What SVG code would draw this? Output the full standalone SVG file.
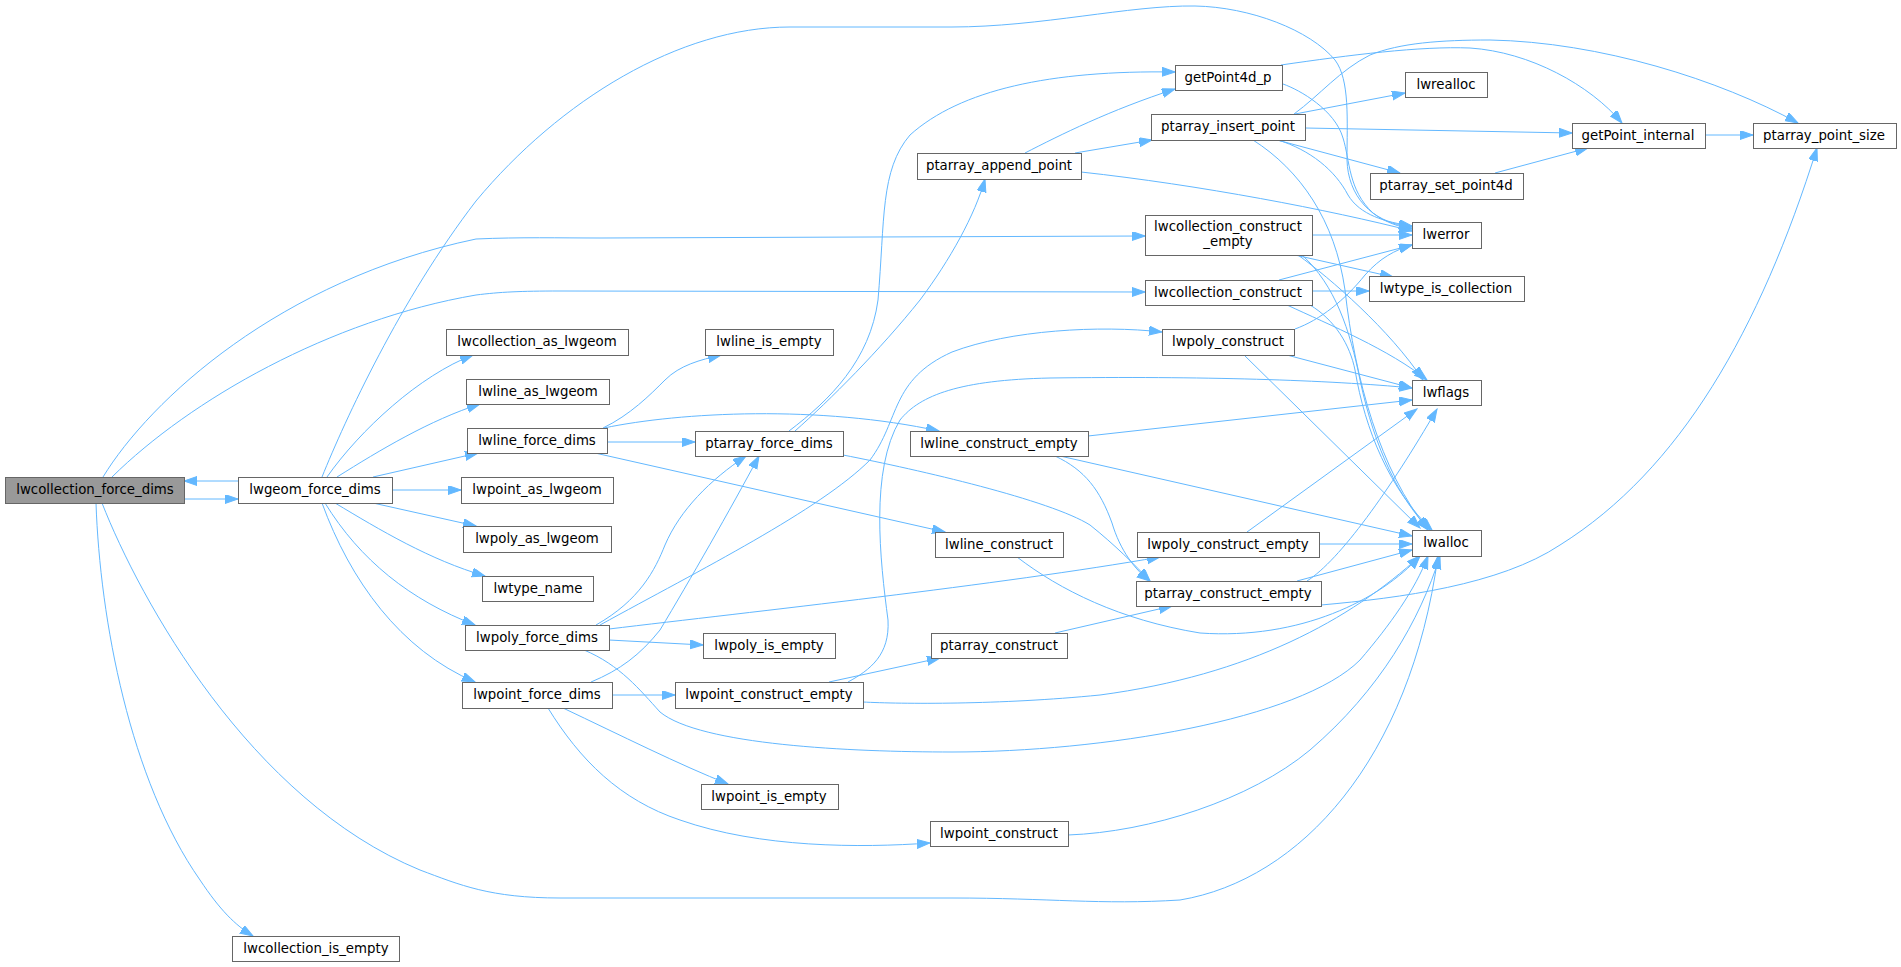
<svg xmlns="http://www.w3.org/2000/svg" width="1901" height="967" viewBox="0 0 1901 967">
<defs>
<style>
.n rect{fill:#ffffff;stroke:#666666;stroke-width:1}
.n.root rect{fill:#999999}
.n text{font-family:"DejaVu Sans",sans-serif;font-size:13.33px;fill:#000000;text-anchor:middle}
.e path{fill:none;stroke:#63b8ff;stroke-width:1;marker-end:url(#ah)}
</style>
<marker id="ah" markerWidth="14" markerHeight="10" refX="13" refY="4.5" orient="auto" markerUnits="userSpaceOnUse"><path d="M0,0 L13,4.5 L0,9 z" fill="#63b8ff" stroke="#63b8ff" stroke-width="1"/></marker>
</defs>
<rect width="1901" height="967" fill="#ffffff"/>
<g id="edges" class="e">
<path d="M238,481 L184,481"/>
<path d="M184,499 L238,499"/>
<path d="M103,477 C150,400 280,280 476,239 C520,237 560,238 600,238 L1145,236"/>
<path d="M112,477 C190,400 330,320 476,295 C500,292 520,291 560,291 L1145,292"/>
<path d="M322,477 C345,420 400,300 476,201 C560,100 680,27 790,27 L952,27 C1040,27 1130,5 1195,6 C1250,7 1310,30 1335,60 C1350,80 1347,120 1347,160 C1348,195 1370,222 1412,229"/>
<path d="M96,503 C100,620 130,780 200,880 C220,910 235,925 253,936"/>
<path d="M102,503 C140,600 250,800 420,870 C460,885 490,898 560,898 L952,898 C1050,898 1100,905 1180,900 C1300,880 1410,760 1438,556"/>
<path d="M327,477 C360,430 420,375 473,355"/>
<path d="M337,477 C380,450 430,420 480,404"/>
<path d="M373,477 L478,453"/>
<path d="M392,490 L461,490"/>
<path d="M373,503 L476,526"/>
<path d="M335,503 C380,530 430,560 485,576"/>
<path d="M325,503 C360,560 410,600 475,625"/>
<path d="M322,503 C350,580 400,650 475,682"/>
<path d="M603,428 C630,415 650,395 665,380 C680,365 700,360 721,355"/>
<path d="M607,442 L695,442"/>
<path d="M604,428 C680,412 820,405 939,431"/>
<path d="M595,453 L945,532"/>
<path d="M789,431 C830,400 870,360 878,300 C885,220 880,170 910,135 C960,90 1050,70 1175,72"/>
<path d="M795,431 C830,400 880,350 920,300 C950,260 975,215 985,179"/>
<path d="M843,455 C920,470 1050,500 1090,525 C1115,545 1135,565 1150,581"/>
<path d="M1025,153 C1060,135 1110,110 1175,89"/>
<path d="M1075,153 L1152,140"/>
<path d="M1081,172 C1200,185 1330,210 1412,231"/>
<path d="M1283,84 C1300,90 1335,110 1343,138 C1350,160 1348,190 1373,213 C1385,222 1400,226 1412,227"/>
<path d="M1281,65 C1350,55 1420,46 1470,48 C1530,52 1590,85 1622,123"/>
<path d="M1295,114 L1405,93"/>
<path d="M1305,128 L1572,133"/>
<path d="M1277,140 L1400,173"/>
<path d="M1278,140 C1310,150 1335,170 1348,195 C1360,215 1385,222 1412,226"/>
<path d="M1253,140 C1300,170 1335,220 1345,290 C1355,380 1380,470 1428,530"/>
<path d="M1294,114 C1320,95 1340,70 1370,55 C1400,43 1440,40 1490,40 C1600,42 1720,80 1798,123"/>
<path d="M1312,235 L1412,235"/>
<path d="M1295,255 L1393,277"/>
<path d="M1298,255 C1330,278 1390,330 1423,380"/>
<path d="M1302,255 C1335,285 1350,330 1360,380 C1375,450 1400,500 1430,530"/>
<path d="M1279,280 L1412,245"/>
<path d="M1312,291 L1369,291"/>
<path d="M1287,305 C1330,325 1390,350 1427,380"/>
<path d="M1310,305 C1335,320 1350,345 1355,370 C1365,430 1390,490 1432,530"/>
<path d="M1295,329 C1320,320 1345,300 1365,275 C1380,258 1395,250 1412,245"/>
<path d="M1283,354 L1412,388"/>
<path d="M1243,354 L1420,528"/>
<path d="M1088,436 L1412,400"/>
<path d="M1055,456 C1085,470 1100,490 1112,523 C1120,550 1135,570 1150,581"/>
<path d="M1060,456 L1412,536"/>
<path d="M596,625 C640,600 655,570 665,545 C680,510 710,480 746,456"/>
<path d="M600,625 C700,570 820,510 870,460 C900,420 890,380 952,352 C1010,330 1100,325 1162,332"/>
<path d="M609,629 C750,612 1000,585 1160,557"/>
<path d="M609,640 L703,645"/>
<path d="M584,650 C620,665 640,690 660,712 C700,745 850,752 952,752 C1100,752 1300,720 1360,660 C1390,625 1415,590 1428,556"/>
<path d="M591,682 C620,670 640,655 660,630 C690,580 730,510 759,456"/>
<path d="M612,695 L675,695"/>
<path d="M563,708 C620,735 680,765 728,784"/>
<path d="M548,708 C580,760 620,800 680,820 C760,848 860,848 930,843"/>
<path d="M829,682 L940,658"/>
<path d="M848,682 C870,670 890,655 888,620 C880,560 870,470 900,420 C920,395 960,380 1050,378 C1200,376 1330,380 1412,388"/>
<path d="M863,702 C900,704 1000,705 1100,695 C1250,675 1350,620 1420,556"/>
<path d="M1017,557 C1060,590 1120,620 1200,633 C1300,640 1380,600 1420,556"/>
<path d="M1247,532 L1417,409"/>
<path d="M1319,544 L1412,544"/>
<path d="M1297,581 L1412,550"/>
<path d="M1307,581 C1340,560 1390,490 1437,409"/>
<path d="M1321,605 C1400,598 1500,585 1560,545 C1680,470 1760,330 1817,148"/>
<path d="M1055,633 L1172,606"/>
<path d="M1068,835 C1150,832 1250,800 1310,750 C1380,690 1420,620 1440,556"/>
<path d="M1495,173 L1588,148"/>
<path d="M1705,135 L1753,135"/>
</g>
<g id="n_lwcollection_force_dims" class="n root"><rect x="5.5" y="477.5" width="179" height="26"/><text x="95" y="494">lwcollection_force_dims</text></g>
<g id="n_lwgeom_force_dims" class="n"><rect x="238.5" y="477.5" width="154" height="26"/><text x="315" y="494">lwgeom_force_dims</text></g>
<g id="n_lwcollection_as_lwgeom" class="n"><rect x="446.5" y="329.5" width="182" height="26"/><text x="537" y="346">lwcollection_as_lwgeom</text></g>
<g id="n_lwline_as_lwgeom" class="n"><rect x="466.5" y="379.5" width="143" height="25"/><text x="538" y="396">lwline_as_lwgeom</text></g>
<g id="n_lwline_force_dims" class="n"><rect x="467.5" y="428.5" width="140" height="25"/><text x="537" y="445">lwline_force_dims</text></g>
<g id="n_lwpoint_as_lwgeom" class="n"><rect x="461.5" y="477.5" width="152" height="26"/><text x="537" y="494">lwpoint_as_lwgeom</text></g>
<g id="n_lwpoly_as_lwgeom" class="n"><rect x="463.5" y="526.5" width="148" height="26"/><text x="537" y="543">lwpoly_as_lwgeom</text></g>
<g id="n_lwtype_name" class="n"><rect x="482.5" y="576.5" width="111" height="25"/><text x="538" y="593">lwtype_name</text></g>
<g id="n_lwpoly_force_dims" class="n"><rect x="465.5" y="625.5" width="144" height="25"/><text x="537" y="642">lwpoly_force_dims</text></g>
<g id="n_lwpoint_force_dims" class="n"><rect x="462.5" y="682.5" width="150" height="26"/><text x="537" y="699">lwpoint_force_dims</text></g>
<g id="n_lwcollection_is_empty" class="n"><rect x="232.5" y="936.5" width="167" height="25"/><text x="316" y="953">lwcollection_is_empty</text></g>
<g id="n_lwline_is_empty" class="n"><rect x="705.5" y="329.5" width="128" height="26"/><text x="769" y="346">lwline_is_empty</text></g>
<g id="n_ptarray_force_dims" class="n"><rect x="695.5" y="431.5" width="148" height="25"/><text x="769" y="448">ptarray_force_dims</text></g>
<g id="n_lwpoly_is_empty" class="n"><rect x="703.5" y="633.5" width="132" height="25"/><text x="769" y="650">lwpoly_is_empty</text></g>
<g id="n_lwpoint_construct_empty" class="n"><rect x="675.5" y="682.5" width="188" height="26"/><text x="769" y="699">lwpoint_construct_empty</text></g>
<g id="n_lwpoint_is_empty" class="n"><rect x="701.5" y="784.5" width="137" height="25"/><text x="769" y="801">lwpoint_is_empty</text></g>
<g id="n_ptarray_append_point" class="n"><rect x="917.5" y="153.5" width="164" height="26"/><text x="999" y="170">ptarray_append_point</text></g>
<g id="n_getPoint4d_p" class="n"><rect x="1175.5" y="65.5" width="107" height="25"/><text x="1228" y="82">getPoint4d_p</text></g>
<g id="n_ptarray_insert_point" class="n"><rect x="1151.5" y="114.5" width="154" height="26"/><text x="1228" y="131">ptarray_insert_point</text></g>
<g id="n_lwcollection_construct_empty" class="n"><rect x="1145.5" y="215.5" width="167" height="40"/><text x="1228" y="231">lwcollection_construct</text><text x="1228" y="246">_empty</text></g>
<g id="n_lwcollection_construct" class="n"><rect x="1145.5" y="280.5" width="167" height="25"/><text x="1228" y="297">lwcollection_construct</text></g>
<g id="n_lwpoly_construct" class="n"><rect x="1162.5" y="329.5" width="132" height="26"/><text x="1228" y="346">lwpoly_construct</text></g>
<g id="n_lwline_construct_empty" class="n"><rect x="910.5" y="431.5" width="178" height="25"/><text x="999" y="448">lwline_construct_empty</text></g>
<g id="n_lwline_construct" class="n"><rect x="935.5" y="532.5" width="128" height="25"/><text x="999" y="549">lwline_construct</text></g>
<g id="n_lwpoly_construct_empty" class="n"><rect x="1137.5" y="532.5" width="182" height="25"/><text x="1228" y="549">lwpoly_construct_empty</text></g>
<g id="n_ptarray_construct_empty" class="n"><rect x="1136.5" y="581.5" width="185" height="25"/><text x="1228" y="598">ptarray_construct_empty</text></g>
<g id="n_ptarray_construct" class="n"><rect x="931.5" y="633.5" width="136" height="25"/><text x="999" y="650">ptarray_construct</text></g>
<g id="n_lwpoint_construct" class="n"><rect x="930.5" y="821.5" width="138" height="25"/><text x="999" y="838">lwpoint_construct</text></g>
<g id="n_lwrealloc" class="n"><rect x="1405.5" y="72.5" width="82" height="25"/><text x="1446" y="89">lwrealloc</text></g>
<g id="n_getPoint_internal" class="n"><rect x="1572.5" y="123.5" width="133" height="25"/><text x="1638" y="140">getPoint_internal</text></g>
<g id="n_ptarray_point_size" class="n"><rect x="1753.5" y="123.5" width="143" height="25"/><text x="1824" y="140">ptarray_point_size</text></g>
<g id="n_ptarray_set_point4d" class="n"><rect x="1370.5" y="173.5" width="153" height="26"/><text x="1446" y="190">ptarray_set_point4d</text></g>
<g id="n_lwerror" class="n"><rect x="1412.5" y="222.5" width="69" height="26"/><text x="1446" y="239">lwerror</text></g>
<g id="n_lwtype_is_collection" class="n"><rect x="1369.5" y="276.5" width="155" height="25"/><text x="1446" y="293">lwtype_is_collection</text></g>
<g id="n_lwflags" class="n"><rect x="1412.5" y="380.5" width="69" height="25"/><text x="1446" y="397">lwflags</text></g>
<g id="n_lwalloc" class="n"><rect x="1412.5" y="530.5" width="69" height="26"/><text x="1446" y="547">lwalloc</text></g>
</svg>
